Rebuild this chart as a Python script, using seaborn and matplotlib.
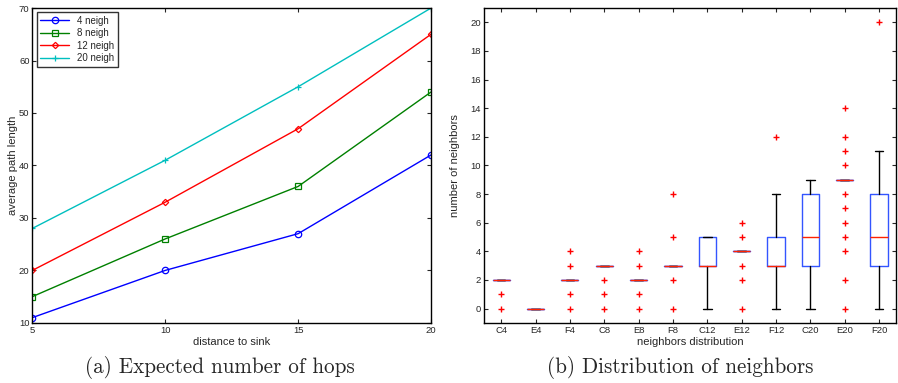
import matplotlib
matplotlib.use("Agg")
import pandas as pd
import matplotlib.pyplot as plt
import seaborn as sns

# --- data: expected number of hops ---
distance = [5, 10, 15, 20]
hops_4 = [11, 20, 27, 42]
hops_8 = [15, 26, 36, 54]
hops_12 = [20, 33, 47, 65]
hops_20 = [28, 41, 55, 70]

# --- data: neighbor distribution (box stats) ---
groups = ["C4", "E4", "F4", "C8", "E8", "F8", "C12", "E12", "F12", "C20", "E20", "F20"]
q1 = [2, 0, 2, 3, 2, 3, 3, 4, 3, 3, 9, 3]
med = [2, 0, 2, 3, 2, 3, 3, 4, 3, 5, 9, 5]
q3 = [2, 0, 2, 3, 2, 3, 5, 4, 5, 8, 9, 8]
whislo = [2, 0, 2, 3, 2, 3, 0, 4, 0, 0, 9, 0]
whishi = [2, 0, 2, 3, 2, 3, 5, 4, 8, 9, 9, 11]
fliers = [
    [0, 1], [], [0, 1, 3, 4], [0, 1, 2], [0, 1, 3, 4], [0, 2, 5, 8],
    [], [0, 2, 3, 5, 6], [12], [], [0, 2, 4, 5, 6, 7, 8, 10, 11, 12, 14], [20],
]

sns.set_style("ticks")
plt.rcParams["font.family"] = ["Liberation Sans", "DejaVu Sans"]

fig = plt.figure(figsize=(8.98, 3.83), dpi=100)
ax1 = fig.add_axes([0.036, 0.157, 0.444, 0.822])
ax2 = fig.add_axes([0.539, 0.157, 0.459, 0.822])

# --- (a) line plot ---
series = [
    ("4 neigh", hops_4, "#0000ff", "o", 4.6),
    ("8 neigh", hops_8, "#008000", "s", 4.6),
    ("12 neigh", hops_12, "#ff0000", "D", 3.2),
    ("20 neigh", hops_20, "#00bfbf", "+", 5),
]
for name, vals, col, mk, ms in series:
    sns.lineplot(x=distance, y=vals, ax=ax1, color=col, marker=mk, markersize=ms,
                 markerfacecolor="none", markeredgecolor=col, markeredgewidth=0.9,
                 linewidth=1.0, label=name)

ax1.set_xlim(5, 20)
ax1.set_ylim(10, 70)
ax1.set_xticks([5, 10, 15, 20])
ax1.set_yticks([10, 20, 30, 40, 50, 60, 70])
ax1.set_xlabel("distance to sink", fontsize=8, labelpad=2)
ax1.set_ylabel("average path length", fontsize=8, labelpad=1)
leg = ax1.legend(loc="upper left", fontsize=7, fancybox=False, frameon=True,
                 borderaxespad=0.45, handlelength=3.0, labelspacing=0.25,
                 borderpad=0.35)
leg.get_frame().set_edgecolor("black")
leg.get_frame().set_linewidth(1.0)

# --- (b) box plot ---
stats = []
for i, g in enumerate(groups):
    stats.append(dict(label=g, q1=q1[i], med=med[i], q3=q3[i],
                      whislo=whislo[i], whishi=whishi[i], fliers=fliers[i]))
ax2.bxp(stats, positions=range(1, len(groups) + 1), widths=0.5, showfliers=True,
        boxprops=dict(color="#3355ff", linewidth=1.0),
        medianprops=dict(color="#ff2200", linewidth=1.0),
        whiskerprops=dict(color="black", linewidth=1.0),
        capprops=dict(color="black", linewidth=1.0),
        flierprops=dict(marker="+", markeredgecolor="#ff0000", markersize=5,
                        markeredgewidth=1.0, linestyle="none"))
ax2.set_xlim(0.5, 12.5)
ax2.set_ylim(-1, 21)
ax2.set_yticks(range(0, 21, 2))
ax2.set_xlabel("neighbors distribution", fontsize=8, labelpad=2)
ax2.set_ylabel("number of neighbors", fontsize=8, labelpad=8)

for ax in (ax1, ax2):
    ax.tick_params(direction="in", top=True, right=True, labelsize=6.8,
                   length=3, width=0.8, pad=2)
    for s in ax.spines.values():
        s.set_color("black")
        s.set_linewidth(1.0)

fig.text(0.245, 0.04, "(a) Expected number of hops", family="cmr10",
         fontsize=15.2, ha="center", va="center")
fig.text(0.757, 0.04, "(b) Distribution of neighbors", family="cmr10",
         fontsize=15.2, ha="center", va="center")

plt.savefig("out.png", dpi=100)
